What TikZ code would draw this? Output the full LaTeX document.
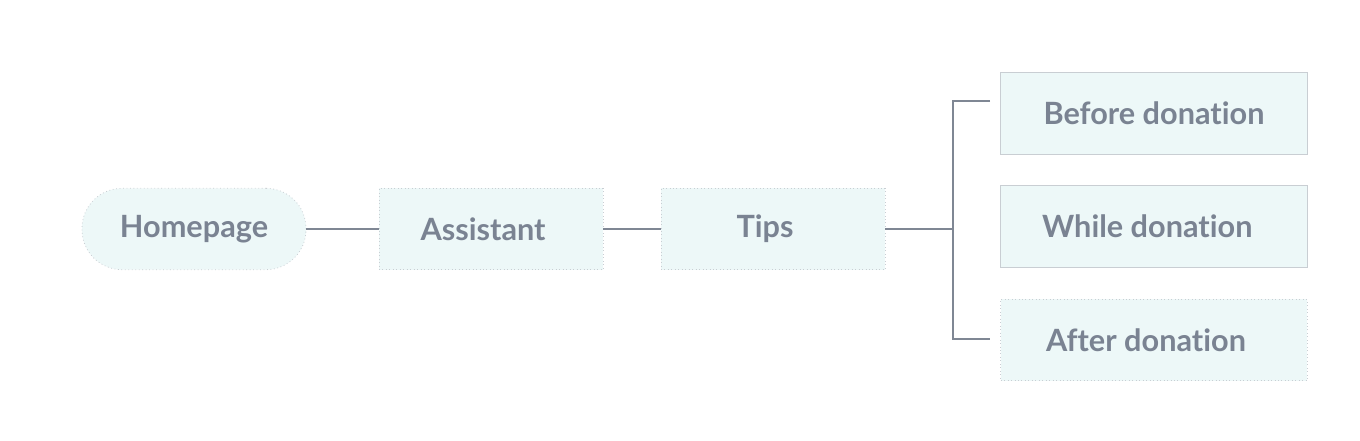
\documentclass[tikz,border=0pt]{standalone}
\usepackage{fontspec}
\setmainfont{Lato}[Ligatures={NoCommon,NoRare}]
\usepackage{tikz}

\definecolor{boxfill}{HTML}{EDF8F8}
\definecolor{boxline}{HTML}{C9CED3}
\definecolor{txt}{HTML}{7A8392}
\definecolor{wire}{HTML}{7F8794}

\tikzset{
  box/.style={rectangle, fill=boxfill, draw=boxline, dotted, line width=.6pt,
    minimum width=168pt, minimum height=61pt, text=txt,
    font=\fontsize{23}{27}\selectfont\bfseries},
  pill/.style={box, rounded corners=30pt},
  wide/.style={box, minimum width=230pt},
  wired/.style={draw=wire, line width=1.2pt}
}

\begin{document}
\begin{tikzpicture}
  [x=.75pt, y=-.75pt]
  \useasboundingbox (0, 0) rectangle (1360, 440);
  \node[pill] (home) at (194, 229) {Homepage};
  \node[box] (assist) at (491, 229) {\hspace*{-12pt}Assistant};
  \node[box] (tips) at (773, 229) {\hspace*{-12pt}Tips};
  \node[wide, solid] (before) at (1154, 113.5) {Before donation};
  \node[wide, solid] (while) at (1154, 226.5) {\hspace*{-10pt}While donation};
  \node[wide] (after) at (1154, 340) {\hspace*{-12pt}After donation};

  \coordinate (fork) at (953, 229);
  \coordinate (up) at (990, 101);
  \coordinate (down) at (990, 339);

  \foreach \from/\to in {home/assist,assist/tips,tips/fork}
  \draw[wired] (\from) -- (\to);
  \draw[wired] (up) -| (fork) |- (down);

\end{tikzpicture}
\end{document}
